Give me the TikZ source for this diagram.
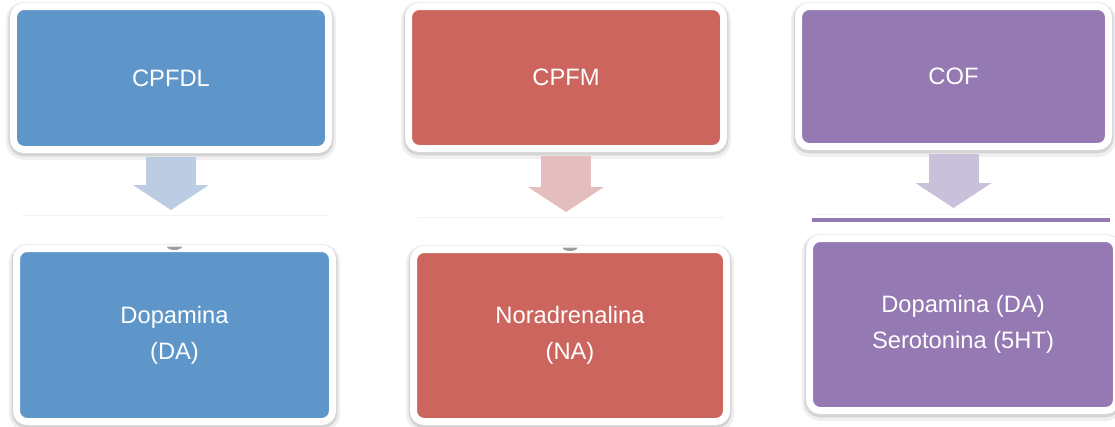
\documentclass[tikz,border=0pt]{standalone}
\usepackage{fontspec}
\setmainfont{Liberation Sans}
\usepackage{tikz}
\usepackage{xcolor}
\usetikzlibrary{arrows.meta,positioning,calc}
\definecolor{boxblue}{HTML}{5F96CA}
\definecolor{boxred}{HTML}{CB655E}
\definecolor{boxpurple}{HTML}{9479B2}
\definecolor{arrblue}{HTML}{BBCCE3}
\definecolor{arrred}{HTML}{E4BEBE}
\definecolor{arrpurple}{HTML}{C9C1D9}
\definecolor{rim}{HTML}{D4D4D4}
\definecolor{haze}{HTML}{EFEFEF}
\tikzset{
  region/.style={draw=white,line width=0.14cm,rounded corners=6pt,
                 text=white,align=center,inner sep=4pt,
                 font=\fontsize{13.5}{20.5}\selectfont,
                 preaction={draw=haze,line width=0.30cm,
                            transform canvas={yshift=-1.6pt}},
                 preaction={draw=rim,line width=0.20cm,
                            transform canvas={yshift=-1.0pt}}},
  bluebox/.style={region,fill=boxblue},
  redbox/.style={region,fill=boxred},
  purplebox/.style={region,fill=boxpurple},
  blockarr/.style={-{Triangle[width=1.52cm,length=0.5cm,line width=0pt]},
                   line width=1cm,shorten <=0.08cm},
  hiddenedge/.style={draw=black!5,line width=0.5pt}
}
\begin{document}
\begin{tikzpicture}[x=1cm,y=1cm]
    \path[use as bounding box] (0,0) rectangle (22.30,-8.54);

    % brain regions
    \node[bluebox,minimum width=6.30cm,minimum height=2.86cm] (cpfdl)
      at (3.42,-1.56) {CPFDL};
    \node[redbox,minimum width=6.30cm,minimum height=2.84cm] (cpfm)
      at (11.32,-1.55) {CPFM};
    \node[purplebox,minimum width=6.20cm,minimum height=2.80cm] (cof)
      at (19.07,-1.53) {COF};

    % faint remains of the hidden boxes
    \draw[hiddenedge] (0.45,-4.30) -- (6.55,-4.30);
    \draw[hiddenedge] (8.35,-4.34) -- (14.45,-4.34);
    \draw[hiddenedge] (16.30,-4.28) -- (22.20,-4.28);
    \fill[boxpurple] (16.24,-4.44) rectangle (22.20,-4.36);

    % neurotransmitters
    \node[bluebox,minimum width=6.32cm,minimum height=3.46cm] (da)
      at (3.49,-6.70) {Dopamina\\(DA)};
    \node[redbox,minimum width=6.26cm,minimum height=3.44cm] (na)
      at (11.40,-6.71) {Noradrenalina\\(NA)};
    \node[purplebox,minimum width=6.14cm,minimum height=3.44cm] (dase)
      at (19.26,-6.49) {Dopamina (DA)\\Serotonina (5HT)};

    \foreach \nt in {da,na}
      \fill[black!38] ($(\nt.north)+(-0.15,-0.03)$) arc[start angle=180,
        end angle=360,x radius=0.15,y radius=0.07] -- cycle;

    \foreach \src/\dst/\col/\gap in {cpfdl/da/arrblue/0.70,
                                     cpfm/na/arrred/0.68,
                                     cof/dase/arrpurple/0.54}
      \draw[blockarr,draw=\col,shorten >=\gap cm]
        (\src.south) -- (\src.south |- \dst.north);
\end{tikzpicture}
\end{document}
